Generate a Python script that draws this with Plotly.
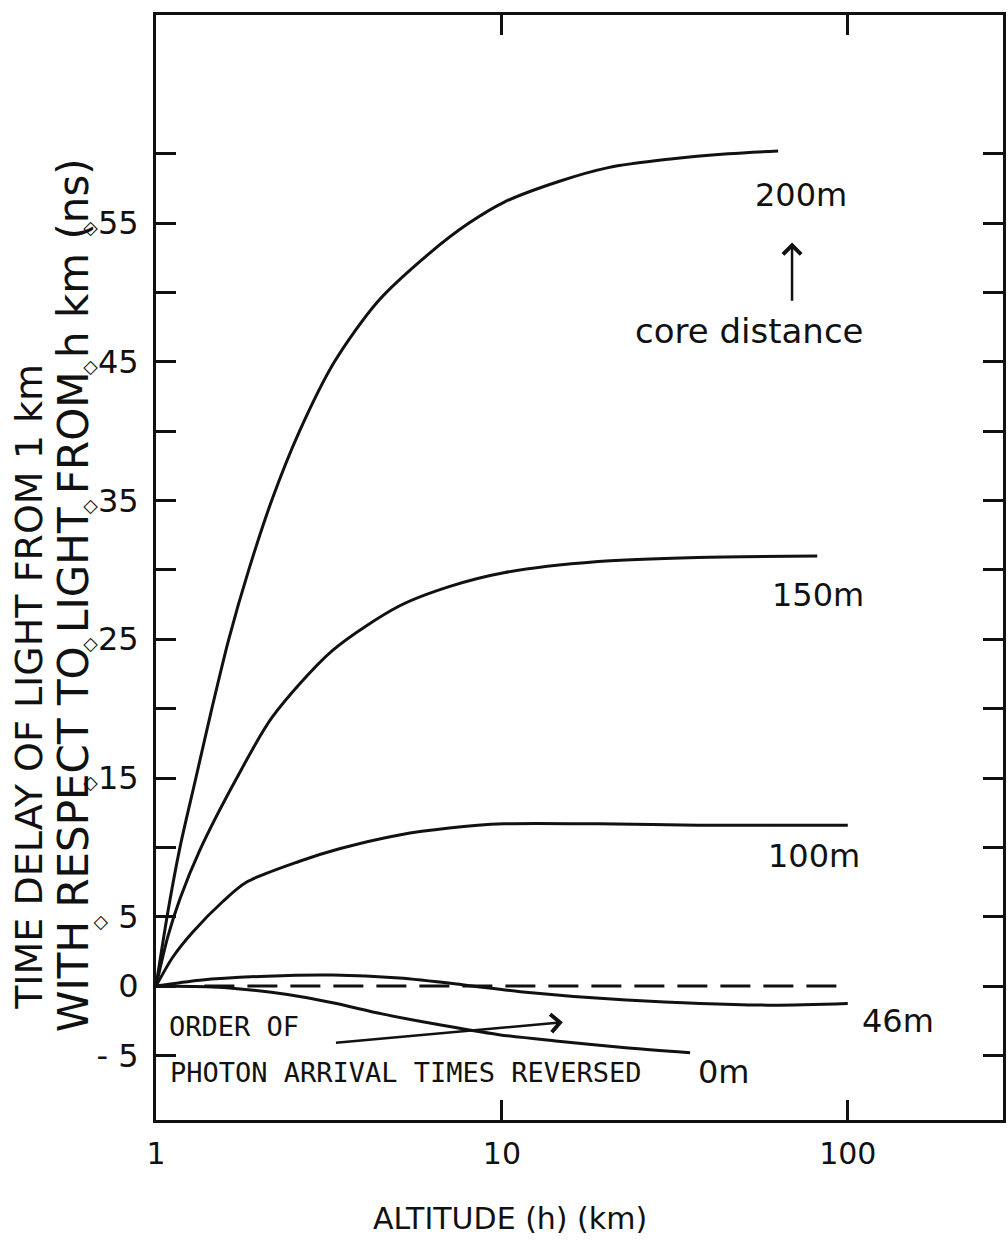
import plotly.graph_objects as go
import numpy as np

# Altitude (km) and time delay (ns) for each core distance
alt_200 = [1.0, 1.083, 1.173, 1.304, 1.45, 1.623, 1.854, 2.16, 2.6, 3.28, 4.36, 6.16, 8.03, 10.13, 14.6, 20.3, 30.3, 45.1, 62.9]
delay_200 = [0.0, 5.4, 10.0, 15.0, 20.0, 25.0, 30.0, 35.0, 40.0, 45.0, 49.3, 52.8, 55.0, 56.5, 58.0, 59.0, 59.6, 60.0, 60.2]

alt_150 = [1.0, 1.083, 1.173, 1.339, 1.712, 2.17, 3.24, 5.05, 7.04, 10.13, 19.0, 36.8, 81.6]
delay_150 = [0.0, 3.6, 6.3, 9.8, 15.0, 19.4, 24.2, 27.4, 28.8, 29.8, 30.6, 30.9, 31.0]

alt_100 = [1.0, 1.119, 1.278, 1.56, 1.829, 2.6, 3.39, 5.05, 7.04, 10.13, 19.0, 36.8, 100.0]
delay_100 = [0.0, 2.1, 3.9, 6.1, 7.5, 9.0, 9.9, 10.9, 11.4, 11.7, 11.7, 11.6, 11.6]

alt_46 = [1.0, 1.34, 2.09, 3.24, 5.05, 7.87, 11.3, 22.9, 58.4, 100.0]
delay_46 = [0.0, 0.43, 0.72, 0.8, 0.58, 0.07, -0.4, -1.0, -1.37, -1.25]

alt_0 = [1.0, 1.4, 1.75, 2.4, 3.24, 4.5, 6.3, 9.8, 14.3, 22.0, 35.0]
delay_0 = [0.0, -0.05, -0.2, -0.6, -1.2, -2.0, -2.7, -3.5, -3.95, -4.4, -4.8]

# zero-delay reference
alt_ref = [1.38, 95.0]
delay_ref = [0.0, 0.0]

DIA = "<span style='font-size:19px'>◇</span>"
y_ticks = list(range(-5, 65, 5))
y_labels = {55: DIA + "55", 45: DIA + "45", 35: DIA + "35", 25: DIA + "25",
            15: DIA + "15", 5: DIA + " 5", 0: "0", -5: "- 5"}
x_ticks = [1, 10, 100]
x_labels = ["1", "10", "100"]

INK = "#111111"
fig = go.Figure()

for xs, ys in [(alt_200, delay_200), (alt_150, delay_150), (alt_100, delay_100),
               (alt_46, delay_46), (alt_0, delay_0)]:
    fig.add_trace(go.Scatter(x=xs, y=ys, mode="lines",
                             line=dict(color=INK, width=3, shape="spline", smoothing=0.8),
                             showlegend=False, hoverinfo="skip"))

fig.add_trace(go.Scatter(x=alt_ref, y=delay_ref, mode="lines",
                         line=dict(color=INK, width=3, dash="30px,13px"),
                         showlegend=False, hoverinfo="skip"))

label_font = dict(family="DejaVu Sans", size=32, color=INK)
mono_font = dict(family="DejaVu Sans Mono", size=27, color=INK)

def note(text, x, y, font=label_font, **kw):
    fig.add_annotation(text=text, x=np.log10(x), y=y, xref="x", yref="y",
                       showarrow=False, font=font, **kw)

note("200m", 73, 57.0)
note("core distance", 52, 47.2, font=dict(family="DejaVu Sans", size=34, color=INK))
note("150m", 82, 28.2)
note("100m", 80, 9.4)
note("46m", 140, -2.5)
note("0m", 44, -6.2)
note("ORDER OF", 1.68, -2.9, font=mono_font)
note("PHOTON ARRIVAL TIMES REVERSED", 1.0, -6.25, font=mono_font, xanchor="left", xshift=12)

# arrow from the core-distance label up towards the 200m label
fig.add_annotation(x=np.log10(69), y=53.6, ax=np.log10(69), ay=49.3,
                   xref="x", yref="y", axref="x", ayref="y", text="",
                   showarrow=True, arrowhead=4, arrowsize=1.4, arrowwidth=2.5, arrowcolor=INK)
# arrow marking the reversed-order region
fig.add_annotation(x=np.log10(15.0), y=-2.6, ax=np.log10(3.28), ay=-4.1,
                   xref="x", yref="y", axref="x", ayref="y", text="",
                   showarrow=True, arrowhead=4, arrowsize=1.4, arrowwidth=2.5, arrowcolor=INK)

# axis titles
fig.add_annotation(text="ALTITUDE (h) (km)", x=0.418, y=-0.0887, xref="paper", yref="paper",
                   xanchor="center", yanchor="middle", showarrow=False,
                   font=dict(family="DejaVu Sans", size=30, color=INK))
fig.add_annotation(text="TIME DELAY OF LIGHT FROM 1 km", textangle=-90,
                   x=0, xshift=-127, y=0.392, xref="paper", yref="paper",
                   xanchor="center", yanchor="middle", showarrow=False,
                   font=dict(family="DejaVu Sans", size=38, color=INK))
fig.add_annotation(text="WITH RESPECT TO LIGHT FROM h km (ns)", textangle=-90,
                   x=0, xshift=-83, y=0.475, xref="paper", yref="paper",
                   xanchor="center", yanchor="middle", showarrow=False,
                   font=dict(family="DejaVu Sans", size=42, color=INK))

fig.update_xaxes(type="log", range=[0, np.log10(281)],
                 tickvals=x_ticks, ticktext=x_labels,
                 ticks="inside", ticklen=20, tickwidth=3, tickcolor=INK,
                 showline=True, linecolor=INK, linewidth=3, mirror="ticks",
                 showgrid=False, zeroline=False, ticklabelstandoff=5,
                 tickfont=dict(family="DejaVu Sans", size=30, color=INK))
fig.update_yaxes(range=[-9.65, 70], tickvals=y_ticks,
                 ticktext=[y_labels.get(v, "") for v in y_ticks],
                 ticks="inside", ticklen=20, tickwidth=3, tickcolor=INK,
                 showline=True, linecolor=INK, linewidth=3, mirror="ticks",
                 showgrid=False, zeroline=False, ticklabelstandoff=8,
                 tickfont=dict(family="DejaVu Sans", size=32, color=INK))

fig.update_layout(width=1008, height=1242, paper_bgcolor="white", plot_bgcolor="white",
                  margin=dict(l=156, r=2, t=15, b=122), showlegend=False)

fig.write_html("out.html")
